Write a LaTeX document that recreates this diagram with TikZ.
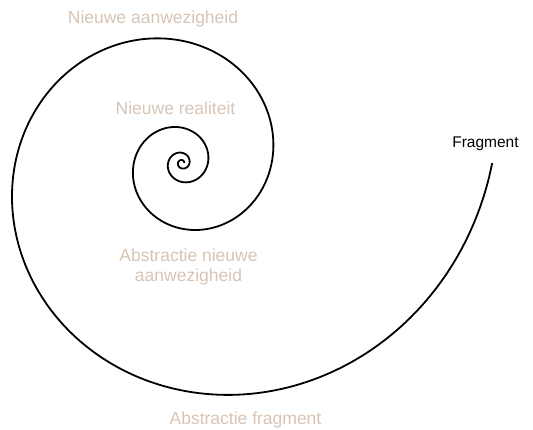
\documentclass[tikz,border=0pt]{standalone}
\usepackage{fontspec}
\setmainfont{Liberation Sans}
\usepackage{tikz}
\usetikzlibrary{positioning}

\definecolor{labelbeige}{RGB}{214,197,181}

\begin{document}
\begin{tikzpicture}[x=1pt, y=-1pt,
  stage/.style={font=\fontsize{17.5}{20}\selectfont, text=labelbeige, inner sep=0pt},
  spiral/.style={line width=1.8pt, line join=round}]
\useasboundingbox (0,0) rectangle (533,430);

% Spiral (logarithmic, centre at 182,163)
\draw[spiral] plot[domain=-720:720, samples=500, smooth]
  ({182 + 25.9*exp(0.1976*\x*pi/180)*cos(\x)}, {163 - 25.9*exp(0.1976*\x*pi/180)*sin(\x)});

% Labels
\node[stage, anchor=base] (aanw) at (153,24) {Nieuwe aanwezigheid};
\node[stage, anchor=base] (real) at (175.5,115) {Nieuwe realiteit};
\node[stage, align=center] (absnw) at (188.5,267) {Abstractie nieuwe\\aanwezigheid};
\node[stage, anchor=base] (absfr) at (245.5,424) {Abstractie fragment};
\node[font=\fontsize{15.5}{18}\selectfont, inner sep=0pt, anchor=base] (frag) at (485.5,147.7) {Fragment};
\end{tikzpicture}
\end{document}
